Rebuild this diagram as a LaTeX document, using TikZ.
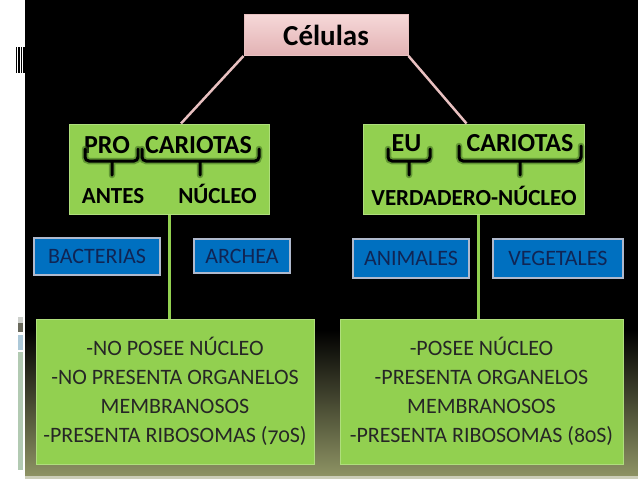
\documentclass[tikz,border=0pt]{standalone}
\usepackage{fontspec}
\setmainfont{Carlito}
\usetikzlibrary{arrows.meta}

\definecolor{slidegreen}{RGB}{146,208,80}
\definecolor{greenedge}{RGB}{175,222,125}
\definecolor{greenglow}{RGB}{60,105,30}
\definecolor{slideblue}{RGB}{0,112,192}
\definecolor{blueedge}{RGB}{175,185,205}
\definecolor{bluetext}{RGB}{16,37,84}
\definecolor{pinktop}{RGB}{246,216,216}
\definecolor{pinkbot}{RGB}{226,178,180}
\definecolor{pinkline}{RGB}{232,192,192}
\definecolor{olive}{RGB}{142,147,100}
\definecolor{stripgrey}{RGB}{205,208,204}
\definecolor{stripdark}{RGB}{105,105,92}
\definecolor{stripblue}{RGB}{172,200,216}
\definecolor{stripsage}{RGB}{178,202,178}

\begin{document}
\begin{tikzpicture}[x=1pt, y=-1pt,
    title/.style={draw=pinkline, line width=1pt, top color=pinktop, bottom color=pinkbot, minimum width=164pt, minimum height=41pt, inner sep=0pt, font=\fontsize{29}{30}\selectfont\bfseries},
    greenbox/.style={draw=greenedge, line width=1pt, fill=slidegreen, inner sep=0pt},
    bluebox/.style={draw=blueedge, line width=1.5pt, fill=slideblue, text=bluetext, inner sep=0pt, font=\fontsize{22}{24}\selectfont},
    infobox/.style={greenbox, align=center, text=black!85, font=\fontsize{22}{29}\selectfont},
    bigword/.style={anchor=base, inner sep=0pt, font=\fontsize{26}{28}\selectfont\bfseries},
    smallword/.style={anchor=base, inner sep=0pt, font=\fontsize{23}{25}\selectfont\bfseries},
    bracket/.style={line width=3pt, rounded corners=4pt, line cap=round},
    glow/.style={bracket, line width=6.5pt, draw=greenglow, opacity=0.55},
    pinkconn/.style={draw=pinkline, line width=2.5pt},
    greenconn/.style={draw=slidegreen, line width=3pt}
]
\useasboundingbox (0,0) rectangle (638,479);
\fill[white] (0,0) rectangle (638,479);
\fill[black] (25,0) rectangle (638,330);
\fill[top color=black, bottom color=olive] (25,330) rectangle (638,476);
\fill[olive!45!white] (25,476) rectangle (638,479);

\foreach \x in {15.5,17.5,19.3,21.2,23.4}
  \fill[black] (\x,47) rectangle +(1.1,26);
\fill[stripgrey] (18,317) rectangle (23,323);
\fill[stripdark] (18,323) rectangle (23,332);
\fill[stripblue] (18,335) rectangle (23,350);
\fill[stripsage] (18,352) rectangle (23,470);

\node[title] (cel) at (326,35) {Células};

\node[greenbox, minimum width=200pt, minimum height=90pt] (pro) at (169,169) {};
\node[greenbox, minimum width=221pt, minimum height=90pt] (eu) at (473.5,169) {};

\node[bigword] (wpro) at (107,153) {PRO};
\node[bigword] (wcarpro) at (198.5,153) {CARIOTAS};
\node[smallword] (wantes) at (113,203) {ANTES};
\node[smallword] (wnucleo) at (217.5,203) {NÚCLEO};
\node[bigword] (weu) at (406.5,151) {EU};
\node[bigword] (wcareu) at (520,151) {CARIOTAS};
\node[smallword] (wverd) at (474,205) {VERDADERO-NÚCLEO};

\foreach \a/\b/\m/\t in {85/138/112/149, 142/259/200/149, 388/430/409/149, 459/581/520/146} {
  \draw[glow] (\a,\t) -- (\a,161) -- (\b,161) -- (\b,\t) (\m,161) -- (\m,175);
  \draw[bracket] (\a,\t) -- (\a,161) -- (\b,161) -- (\b,\t) (\m,161) -- (\m,175);
}

\node[bluebox, minimum width=126pt, minimum height=37pt] (bact) at (97,256.5) {BACTERIAS};
\node[bluebox, minimum width=96pt, minimum height=34pt] (arch) at (242,256) {ARCHEA};
\node[bluebox, minimum width=116pt, minimum height=39pt] (anim) at (411,258.5) {ANIMALES};
\node[bluebox, minimum width=130pt, minimum height=39pt] (veg) at (558,258.5) {VEGETALES};

\node[infobox, minimum width=278pt, minimum height=145pt] (proinfo) at (175,391.5)
  {-NO POSEE NÚCLEO\\-NO PRESENTA ORGANELOS\\MEMBRANOSOS\\-PRESENTA RIBOSOMAS ({\addfontfeature{Numbers=OldStyle}70}S)};
\node[infobox, minimum width=283pt, minimum height=145pt] (euinfo) at (481.5,391.5)
  {-POSEE NÚCLEO\\-PRESENTA ORGANELOS\\MEMBRANOSOS\\-PRESENTA RIBOSOMAS ({\addfontfeature{Numbers=OldStyle}80}S)};

\draw[pinkconn] (cel.south west) -- ([xshift=12pt]pro.north);
\draw[pinkconn] (cel.south east) -- ([xshift=-7pt]eu.north);
\draw[greenconn] (pro.south) -- (pro.south |- proinfo.north);
\draw[greenconn] ([xshift=4.5pt]eu.south) -- ([xshift=4.5pt]eu.south |- euinfo.north);
\end{tikzpicture}
\end{document}
